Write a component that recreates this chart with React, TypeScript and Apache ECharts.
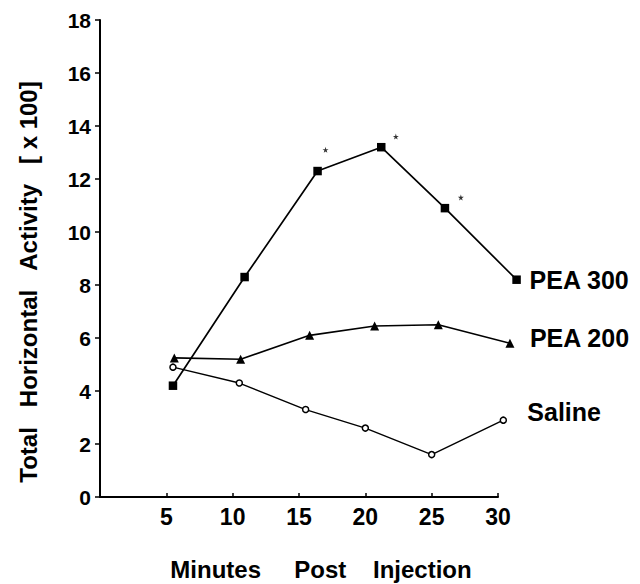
import React, { useEffect, useRef } from "react";
import * as echarts from "echarts";

const xTickLabels = [5, 10, 15, 20, 25, 30];
const yTickLabels = [0, 2, 4, 6, 8, 10, 12, 14, 16, 18];

const pea300X = [5.5, 10.9, 16.4, 21.2, 26.0, 31.4];
const pea300Y = [4.2, 8.3, 12.3, 13.2, 10.9, 8.2];
const pea200X = [5.6, 10.6, 15.8, 20.7, 25.5, 30.9];
const pea200Y = [5.25, 5.2, 6.1, 6.45, 6.5, 5.8];
const salineX = [5.5, 10.5, 15.5, 20.0, 25.0, 30.4];
const salineY = [4.9, 4.3, 3.3, 2.6, 1.6, 2.9];
const starX = [17.0, 22.3, 27.2];
const starY = [13.1, 13.6, 11.3];

const FONT = "Liberation Sans";

const W = 640;
const LEFT = 100;
const RIGHT = 142;
const TOP = 20;
const BOTTOM = 87;
const X_MAX = 30;
const X_MAX_DATA = 33; // extended range so points past 30 are not clipped
const plotW = W - LEFT - RIGHT;
const RIGHT_DATA = W - LEFT - (plotW * X_MAX_DATA) / X_MAX;

function zip(xs: number[], ys: number[]) {
  return xs.map((x, i) => [x, ys[i]]);
}

export default function App() {
  const ref = useRef<HTMLDivElement>(null);
  useEffect(() => {
    if (!ref.current) return;
    const chart = echarts.init(ref.current, null, { renderer: "svg" });
    const lbl = (text: string, dx: number, dy: number) => ({
      show: true,
      formatter: text,
      distance: 0,
      offset: [dx, dy],
      fontFamily: FONT,
      fontWeight: "bold",
      fontSize: 25,
      color: "#000",
    });
    chart.setOption({
      animation: false,
      backgroundColor: "#fff",
      grid: [
        { left: LEFT, right: RIGHT, top: TOP, bottom: BOTTOM },
        { left: LEFT, right: RIGHT_DATA, top: TOP, bottom: BOTTOM },
      ],
      xAxis: [
        {
          type: "value",
          gridIndex: 0,
          min: 0,
          max: X_MAX,
          interval: 5,
          splitLine: { show: false },
          axisLine: { lineStyle: { color: "#000", width: 2 } },
          axisTick: { inside: true, length: 4, lineStyle: { color: "#000", width: 1.5 } },
          axisLabel: {
            margin: 8,
            fontFamily: FONT,
            fontWeight: "bold",
            fontSize: 23,
            color: "#000",
            formatter: (v: number) => (xTickLabels.includes(v) ? String(v) : ""),
          },
        },
        {
          type: "value",
          gridIndex: 1,
          min: 0,
          max: X_MAX_DATA,
          show: false,
        },
      ],
      yAxis: [
        {
          type: "value",
          gridIndex: 0,
          min: 0,
          max: 18,
          interval: 2,
          splitLine: { show: false },
          axisLine: { lineStyle: { color: "#000", width: 2 } },
          axisTick: { inside: false, length: 5, lineStyle: { color: "#000", width: 1.5 } },
          axisLabel: {
            margin: 9,
            fontFamily: FONT,
            fontWeight: "bold",
            fontSize: 21,
            color: "#000",
            formatter: (v: number) => (yTickLabels.includes(v) ? String(v) : ""),
          },
        },
        {
          type: "value",
          gridIndex: 1,
          min: 0,
          max: 18,
          show: false,
        },
      ],
      series: [
        {
          name: "PEA 300",
          type: "line",
          xAxisIndex: 1,
          yAxisIndex: 1,
          clip: false,
          data: zip(pea300X, pea300Y),
          symbol: "rect",
          symbolSize: 8.5,
          lineStyle: { color: "#000", width: 1.7 },
          itemStyle: { color: "#000" },
          endLabel: lbl("PEA 300", 13, 0),
        },
        {
          name: "PEA 200",
          type: "line",
          xAxisIndex: 1,
          yAxisIndex: 1,
          clip: false,
          data: zip(pea200X, pea200Y),
          symbol: "triangle",
          symbolSize: 9,
          lineStyle: { color: "#000", width: 1.6 },
          itemStyle: { color: "#000" },
          endLabel: lbl("PEA 200", 20, -5),
        },
        {
          name: "Saline",
          type: "line",
          xAxisIndex: 1,
          yAxisIndex: 1,
          clip: false,
          data: zip(salineX, salineY),
          symbol: "circle",
          symbolSize: 6,
          lineStyle: { color: "#000", width: 1.4 },
          itemStyle: { color: "#fff", borderColor: "#000", borderWidth: 1.5 },
          endLabel: lbl("Saline", 24, -8),
        },
        {
          name: "significance",
          type: "scatter",
          xAxisIndex: 1,
          yAxisIndex: 1,
          clip: false,
          data: zip(starX, starY),
          symbol:
            "path://M50,0 L61,35 L98,35 L68,57 L79,91 L50,70 L21,91 L32,57 L2,35 L39,35 Z",
          symbolSize: 6,
          itemStyle: { color: "#000" },
        },
      ],
      graphic: [
        {
          type: "text",
          x: 321,
          y: 569,
          style: {
            text: "Minutes     Post    Injection",
            fontFamily: FONT,
            fontWeight: "bold",
            fontSize: 24,
            fill: "#000",
            textAlign: "center",
            textVerticalAlign: "middle",
          },
        },
        {
          type: "text",
          x: 28,
          y: 282,
          rotation: Math.PI / 2,
          style: {
            text: "Total   Horizontal   Activity   [ x 100]",
            fontFamily: FONT,
            fontWeight: "bold",
            fontSize: 24,
            fill: "#000",
            textAlign: "center",
            textVerticalAlign: "middle",
          },
        },
      ],
    });
    return () => chart.dispose();
  }, []);
  return (
    <div
      ref={ref}
      style={{ position: "fixed", left: 0, top: 0, width: 640, height: 584 }}
    />
  );
}
